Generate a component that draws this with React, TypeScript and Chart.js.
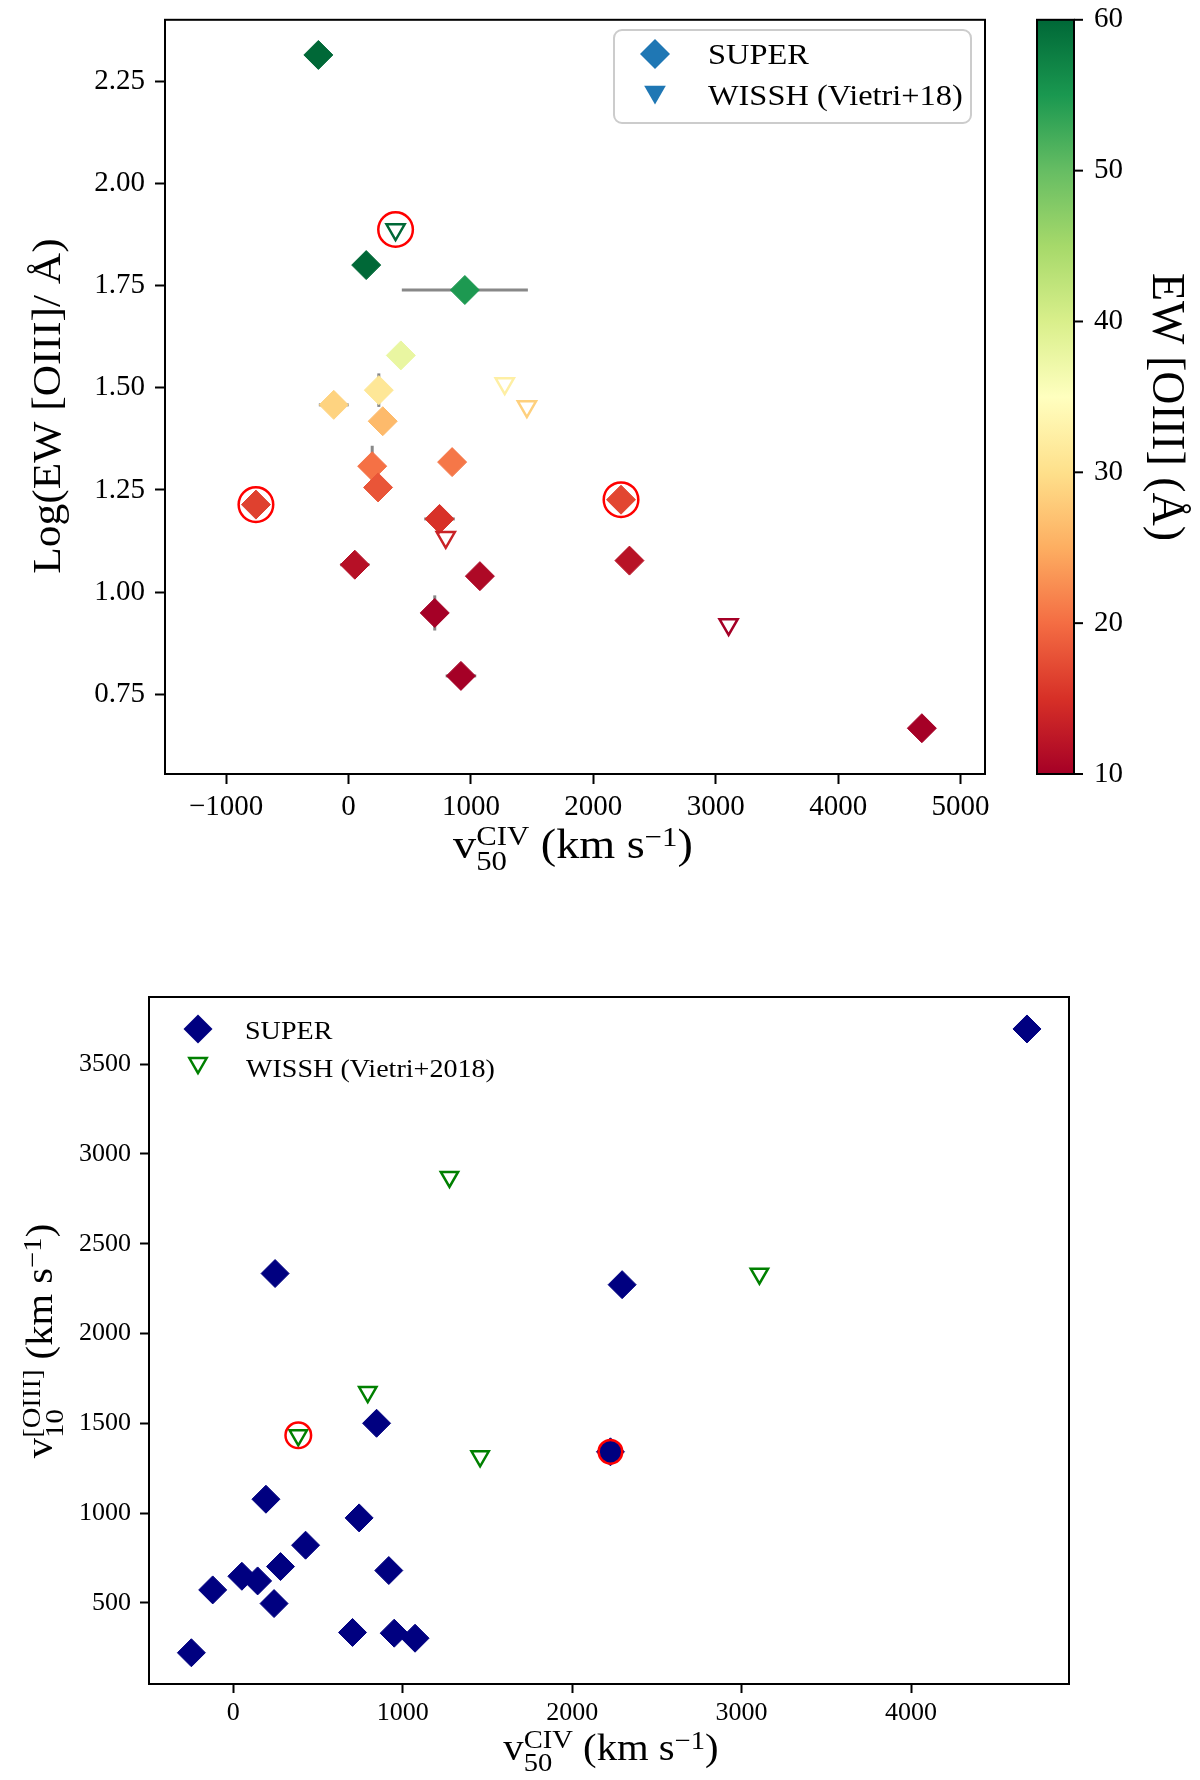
import { useEffect, useRef } from "react"
import { Chart, registerables } from "chart.js"

Chart.register(...registerables)

// SUPER targets, same order in both panels (null = no [OIII] v10 measured)
const superV50 = [-247, 144, 950, 427, 247, -121, 279, 193, 846, 241, -757, 2226, 743, 51, 2295, 1073, 704, 918, 4684]
const superLogEW = [2.314, 1.8, 1.739, 1.579, 1.494, 1.458, 1.418, 1.308, 1.318, 1.256, 1.214, 1.226, 1.179, 1.067, 1.077, 1.039, 0.949, 0.795, 0.667]
const superV10: (number | null)[] = [222, 622, 331, 821, 2334, 572, 702, 1077, 1500, 496, null, 1341, 973, 648, 2272, 303, 335, 680, 3696]
const superV50Err = [0, 0, 515, 0, 0, 122, 0, 0, 0, 0, 0, 0, 125, 120, 0, 0, 0, 125, 0]
const superLogEWErr = [0, 0, 0, 0, 0.041, 0, 0, 0.05, 0, 0, 0, 0, 0, 0, 0, 0, 0.043, 0, 0]

// WISSH quasars (Vietri+18)
const wisshV50 = [384, 1276, 1457, 794, 3105]
const wisshLogEW = [1.887, 1.51, 1.454, 1.134, 0.921]
const wisshV10 = [1433, 2872, 1316, 1674, 2333]

// objects marked with a red ring
const circledSuperTop = [10, 11]
const circledWisshTop = [0]
const circledSuperBottom = [11]
const circledWisshBottom = [0]

// axes
const topXTicks = [-1000, 0, 1000, 2000, 3000, 4000, 5000]
const topYTicks = [0.75, 1.0, 1.25, 1.5, 1.75, 2.0, 2.25]
const ewRange = [10, 60]
const ewTicks = [10, 20, 30, 40, 50, 60]
const bottomXTicks = [0, 1000, 2000, 3000, 4000]
const bottomYTicks = [500, 1000, 1500, 2000, 2500, 3000, 3500]

const SERIF = "'Liberation Serif', 'Times New Roman', serif"

// matplotlib RdYlGn
const RDYLGN = [
  [165, 0, 38], [215, 48, 39], [244, 109, 67], [253, 174, 97], [254, 224, 139], [255, 255, 191],
  [217, 239, 139], [166, 217, 106], [102, 189, 99], [26, 152, 80], [0, 104, 55],
]

function rdylgn(t: number) {
  const c = Math.min(1, Math.max(0, t)) * (RDYLGN.length - 1)
  const i = Math.min(Math.floor(c), RDYLGN.length - 2)
  const f = c - i
  const a = RDYLGN[i]
  const b = RDYLGN[i + 1]
  const m = (k: number) => Math.round(a[k] + (b[k] - a[k]) * f)
  return `rgb(${m(0)},${m(1)},${m(2)})`
}

const ewColor = (logEW: number) => rdylgn((Math.pow(10, logEW) - ewRange[0]) / (ewRange[1] - ewRange[0]))

type Piece =
  | { text: string; size: number; rise?: number }
  | { sup: string; sub: string; size: number; up: number; down: number }

// draws a label with super/subscripts, centred on x, baseline at y
// (stretch widens the glyphs a little: the original used Computer Modern)
function drawPieces(ctx: CanvasRenderingContext2D, pieces: Piece[], x: number, y: number, angle: number, stretch = 1) {
  const font = (s: number) => `${s}px ${SERIF}`
  const widths = pieces.map((p) => {
    ctx.font = font(p.size)
    if ("text" in p) return ctx.measureText(p.text).width
    return Math.max(ctx.measureText(p.sup).width, ctx.measureText(p.sub).width)
  })
  ctx.save()
  ctx.translate(x, y)
  ctx.rotate(angle)
  ctx.scale(stretch, 1)
  ctx.fillStyle = "#000"
  ctx.textAlign = "left"
  ctx.textBaseline = "alphabetic"
  let cur = -widths.reduce((a, b) => a + b, 0) / 2
  pieces.forEach((p, i) => {
    ctx.font = font(p.size)
    if ("text" in p) {
      ctx.fillText(p.text, cur, -(p.rise ?? 0))
    } else {
      ctx.fillText(p.sup, cur, -p.up)
      ctx.fillText(p.sub, cur, p.down)
    }
    cur += widths[i]
  })
  ctx.restore()
}

function legendText(ctx: CanvasRenderingContext2D, text: string, x: number, y: number, size: number, stretch: number) {
  ctx.save()
  ctx.translate(x, y)
  ctx.scale(stretch, 1)
  ctx.fillStyle = "#000"
  ctx.font = `${size}px ${SERIF}`
  ctx.textAlign = "left"
  ctx.textBaseline = "alphabetic"
  ctx.fillText(text, 0, 0)
  ctx.restore()
}

function diamond(ctx: CanvasRenderingContext2D, x: number, y: number, r: number) {
  ctx.beginPath()
  ctx.moveTo(x, y - r)
  ctx.lineTo(x + r, y)
  ctx.lineTo(x, y + r)
  ctx.lineTo(x - r, y)
  ctx.closePath()
}

function triangleDown(ctx: CanvasRenderingContext2D, x: number, y: number, r: number) {
  const h = r * Math.sin(Math.PI / 3)
  ctx.beginPath()
  ctx.moveTo(x, y + r)
  ctx.lineTo(x - h, y - r / 2)
  ctx.lineTo(x + h, y - r / 2)
  ctx.closePath()
}

const fmtMinus = (v: number) => (v < 0 ? "\u2212" + Math.abs(v) : String(v))

function tickGrid(len: number) {
  return { display: true, drawOnChartArea: false, drawTicks: true, tickLength: len, tickWidth: 2, tickColor: "#000" }
}

function frame(chart: Chart) {
  const { ctx, chartArea: a } = chart
  ctx.save()
  ctx.strokeStyle = "#000"
  ctx.lineWidth = 2
  ctx.strokeRect(a.left, a.top, a.right - a.left, a.bottom - a.top)
  ctx.restore()
}

function TopPanel() {
  const ref = useRef<HTMLCanvasElement>(null)

  useEffect(() => {
    if (!ref.current) return

    const superPts = superV50.map((x, i) => ({ x, y: superLogEW[i] }))
    const wisshPts = wisshV50.map((x, i) => ({ x, y: wisshLogEW[i] }))
    const circled = [
      ...circledSuperTop.map((i) => superPts[i]),
      ...circledWisshTop.map((i) => wisshPts[i]),
    ]

    const errorBars = {
      id: "errorBars",
      beforeDatasetsDraw(chart: Chart) {
        const { ctx } = chart
        const xs = chart.scales.x
        const ys = chart.scales.y
        ctx.save()
        ctx.strokeStyle = "#888888"
        ctx.lineWidth = 3
        superV50.forEach((v, i) => {
          const px = xs.getPixelForValue(v)
          const py = ys.getPixelForValue(superLogEW[i])
          if (superV50Err[i] > 0) {
            ctx.beginPath()
            ctx.moveTo(xs.getPixelForValue(v - superV50Err[i]), py)
            ctx.lineTo(xs.getPixelForValue(v + superV50Err[i]), py)
            ctx.stroke()
          }
          if (superLogEWErr[i] > 0) {
            ctx.beginPath()
            ctx.moveTo(px, ys.getPixelForValue(superLogEW[i] - superLogEWErr[i]))
            ctx.lineTo(px, ys.getPixelForValue(superLogEW[i] + superLogEWErr[i]))
            ctx.stroke()
          }
        })
        ctx.restore()
      },
    }

    const decorations = {
      id: "decorations",
      afterDraw(chart: Chart) {
        const { ctx, chartArea: a } = chart
        frame(chart)

        // colour bar
        const ew = chart.scales.ew
        const cbL = 1037
        const cbR = 1074
        const grad = ctx.createLinearGradient(0, ew.getPixelForValue(ewRange[0]), 0, ew.getPixelForValue(ewRange[1]))
        RDYLGN.forEach((_, k) => grad.addColorStop(k / (RDYLGN.length - 1), rdylgn(k / (RDYLGN.length - 1))))
        ctx.save()
        ctx.fillStyle = grad
        ctx.fillRect(cbL, a.top, cbR - cbL, a.bottom - a.top)
        ctx.strokeStyle = "#000"
        ctx.lineWidth = 2
        ctx.strokeRect(cbL, a.top, cbR - cbL, a.bottom - a.top)
        ctx.font = `29px ${SERIF}`
        ctx.fillStyle = "#000"
        ctx.textAlign = "left"
        ctx.textBaseline = "middle"
        ewTicks.forEach((t) => {
          const py = ew.getPixelForValue(t)
          ctx.beginPath()
          ctx.moveTo(cbR, py)
          ctx.lineTo(cbR + 9, py)
          ctx.stroke()
          ctx.fillText(String(t), 1094, py)
        })
        ctx.restore()

        // legend
        const sets = chart.data.datasets
        ctx.save()
        ctx.beginPath()
        ctx.roundRect(614, 30, 357, 93, 8)
        ctx.fillStyle = "rgba(255,255,255,0.8)"
        ctx.fill()
        ctx.strokeStyle = "#cccccc"
        ctx.lineWidth = 2
        ctx.stroke()
        ctx.fillStyle = "#1f77b4"
        diamond(ctx, 655, 54, 15)
        ctx.fill()
        triangleDown(ctx, 655, 92, 12.5)
        ctx.fill()
        ctx.restore()
        legendText(ctx, String(sets[2].label), 708, 64, 30, 1.08)
        legendText(ctx, String(sets[1].label), 708, 105, 30, 1.08)

        // axis titles
        drawPieces(ctx, [
          { text: "v", size: 42 },
          { sup: "CIV", sub: "50", size: 28, up: 13, down: 12 },
          { text: " (km s", size: 42 },
          { text: "\u22121", size: 28, rise: 12 },
          { text: ")", size: 42 },
        ], 573, 858, 0, 1.1)
        drawPieces(ctx, [{ text: "Log(EW [OIII]/ \u00c5)", size: 41 }], 60, 406, -Math.PI / 2, 1.06)
        drawPieces(ctx, [{ text: "EW [OIII] (\u00c5)", size: 46 }], 1153, 407, Math.PI / 2)
      },
    }

    const chart = new Chart(ref.current, {
      type: "scatter",
      data: {
        datasets: [
          {
            label: "circled",
            data: circled,
            pointStyle: "circle",
            pointRadius: 17.3,
            backgroundColor: "rgba(0,0,0,0)",
            borderColor: "#ff0000",
            borderWidth: 2.5,
            order: 0,
          },
          {
            label: "WISSH (Vietri+18)",
            data: wisshPts,
            pointStyle: "triangle",
            rotation: 180,
            pointRadius: 10.5,
            backgroundColor: "rgba(0,0,0,0)",
            borderColor: wisshLogEW.map(ewColor),
            borderWidth: 2.5,
            order: 1,
          },
          {
            label: "SUPER",
            data: superPts,
            pointStyle: "rectRot",
            pointRadius: 14.5,
            backgroundColor: superLogEW.map(ewColor),
            borderColor: superLogEW.map(ewColor),
            borderWidth: 1,
            order: 2,
          },
        ],
      },
      options: {
        responsive: false,
        animation: false,
        events: [],
        layout: { padding: { top: 15, right: 215, left: 0, bottom: 0 } },
        plugins: { legend: { display: false }, tooltip: { enabled: false } },
        scales: {
          x: {
            type: "linear",
            min: -1500,
            max: 5200,
            afterBuildTicks: (s: any) => {
              s.ticks = topXTicks.map((value) => ({ value }))
            },
            afterFit: (s: any) => {
              s.height = 106
              s.paddingLeft = 0
              s.paddingRight = 0
            },
            grid: tickGrid(10),
            border: { display: false },
            ticks: {
              font: { family: SERIF, size: 29 },
              color: "#000",
              padding: 6,
              autoSkip: false,
              maxRotation: 0,
              callback: (v: any) => fmtMinus(Number(v)),
            },
          },
          y: {
            type: "linear",
            min: 0.555,
            max: 2.4,
            afterBuildTicks: (s: any) => {
              s.ticks = topYTicks.map((value) => ({ value }))
            },
            afterFit: (s: any) => {
              s.width = 165
              s.paddingTop = 0
              s.paddingBottom = 0
            },
            grid: tickGrid(10),
            border: { display: false },
            ticks: {
              font: { family: SERIF, size: 29 },
              color: "#000",
              padding: 10,
              autoSkip: false,
              callback: (v: any) => Number(v).toFixed(2),
            },
          },
          ew: {
            type: "linear",
            axis: "y",
            position: "right",
            min: ewRange[0],
            max: ewRange[1],
            display: false,
            afterFit: (s: any) => {
              s.paddingTop = 0
              s.paddingBottom = 0
            },
          },
        },
      },
      plugins: [errorBars, decorations],
    } as any)

    return () => {
      chart.destroy()
    }
  }, [])

  return <canvas ref={ref} width={1200} height={880} style={{ display: "block" }} />
}

function BottomPanel() {
  const ref = useRef<HTMLCanvasElement>(null)

  useEffect(() => {
    if (!ref.current) return

    const superPts = superV50
      .map((x, i) => ({ x, y: superV10[i] }))
      .filter((p) => p.y !== null)
    const wisshPts = wisshV50.map((x, i) => ({ x, y: wisshV10[i] }))

    const decorations = {
      id: "decorations",
      afterDraw(chart: Chart) {
        const { ctx } = chart
        frame(chart)

        const sets = chart.data.datasets
        ctx.save()
        ctx.fillStyle = "#000080"
        diamond(ctx, 198, 149, 14.5)
        ctx.fill()
        ctx.strokeStyle = "#008000"
        ctx.lineWidth = 2.5
        triangleDown(ctx, 198, 183, 10)
        ctx.stroke()
        ctx.restore()
        legendText(ctx, String(sets[3].label), 245, 159, 26, 1.08)
        legendText(ctx, String(sets[2].label), 246, 197, 26, 1.08)

        drawPieces(ctx, [
          { text: "v", size: 37 },
          { sup: "CIV", sub: "50", size: 26, up: 12, down: 11 },
          { text: " (km s", size: 37 },
          { text: "\u22121", size: 26, rise: 11 },
          { text: ")", size: 37 },
        ], 611, 880, 0, 1.1)
        drawPieces(ctx, [
          { text: "v", size: 37 },
          { sup: "[OIII]", sub: "10", size: 26, up: 12, down: 11 },
          { text: " (km s", size: 37 },
          { text: "\u22121", size: 26, rise: 11 },
          { text: ")", size: 37 },
        ], 52, 461, -Math.PI / 2, 1.1)
      },
    }

    const chart = new Chart(ref.current, {
      type: "scatter",
      data: {
        datasets: [
          {
            label: "circled WISSH",
            data: circledWisshBottom.map((i) => wisshPts[i]),
            pointStyle: "circle",
            pointRadius: 12.8,
            backgroundColor: "rgba(0,0,0,0)",
            borderColor: "#ff0000",
            borderWidth: 2.5,
            order: 0,
          },
          {
            label: "circled SUPER",
            data: circledSuperBottom.map((i) => ({ x: superV50[i], y: superV10[i] })),
            pointStyle: "circle",
            pointRadius: 11.8,
            backgroundColor: "#000080",
            borderColor: "#ff0000",
            borderWidth: 2.5,
            order: 1,
          },
          {
            label: "WISSH (Vietri+2018)",
            data: wisshPts,
            pointStyle: "triangle",
            rotation: 180,
            pointRadius: 10,
            backgroundColor: "rgba(0,0,0,0)",
            borderColor: "#008000",
            borderWidth: 2.5,
            order: 2,
          },
          {
            label: "SUPER",
            data: superPts,
            pointStyle: "rectRot",
            pointRadius: 14,
            backgroundColor: "#000080",
            borderColor: "#000080",
            borderWidth: 1,
            order: 3,
          },
        ],
      },
      options: {
        responsive: false,
        animation: false,
        events: [],
        layout: { padding: { top: 117, right: 131, left: 0, bottom: 0 } },
        plugins: { legend: { display: false }, tooltip: { enabled: false } },
        scales: {
          x: {
            type: "linear",
            min: -497,
            max: 4932,
            afterBuildTicks: (s: any) => {
              s.ticks = bottomXTicks.map((value) => ({ value }))
            },
            afterFit: (s: any) => {
              s.height = 96
              s.paddingLeft = 0
              s.paddingRight = 0
            },
            grid: tickGrid(9),
            border: { display: false },
            ticks: {
              font: { family: SERIF, size: 26 },
              color: "#000",
              padding: 5,
              autoSkip: false,
              maxRotation: 0,
              callback: (v: any) => fmtMinus(Number(v)),
            },
          },
          y: {
            type: "linear",
            min: 48,
            max: 3874,
            afterBuildTicks: (s: any) => {
              s.ticks = bottomYTicks.map((value) => ({ value }))
            },
            afterFit: (s: any) => {
              s.width = 149
              s.paddingTop = 0
              s.paddingBottom = 0
            },
            grid: tickGrid(9),
            border: { display: false },
            ticks: {
              font: { family: SERIF, size: 26 },
              color: "#000",
              padding: 9,
              autoSkip: false,
              callback: (v: any) => String(v),
            },
          },
        },
      },
      plugins: [decorations],
    } as any)

    return () => {
      chart.destroy()
    }
  }, [])

  return <canvas ref={ref} width={1200} height={900} style={{ display: "block" }} />
}

export default function App() {
  return (
    <div style={{ position: "absolute", left: 0, top: 0, width: 1200, height: 1780, background: "#fff" }}>
      <TopPanel />
      <BottomPanel />
    </div>
  )
}
